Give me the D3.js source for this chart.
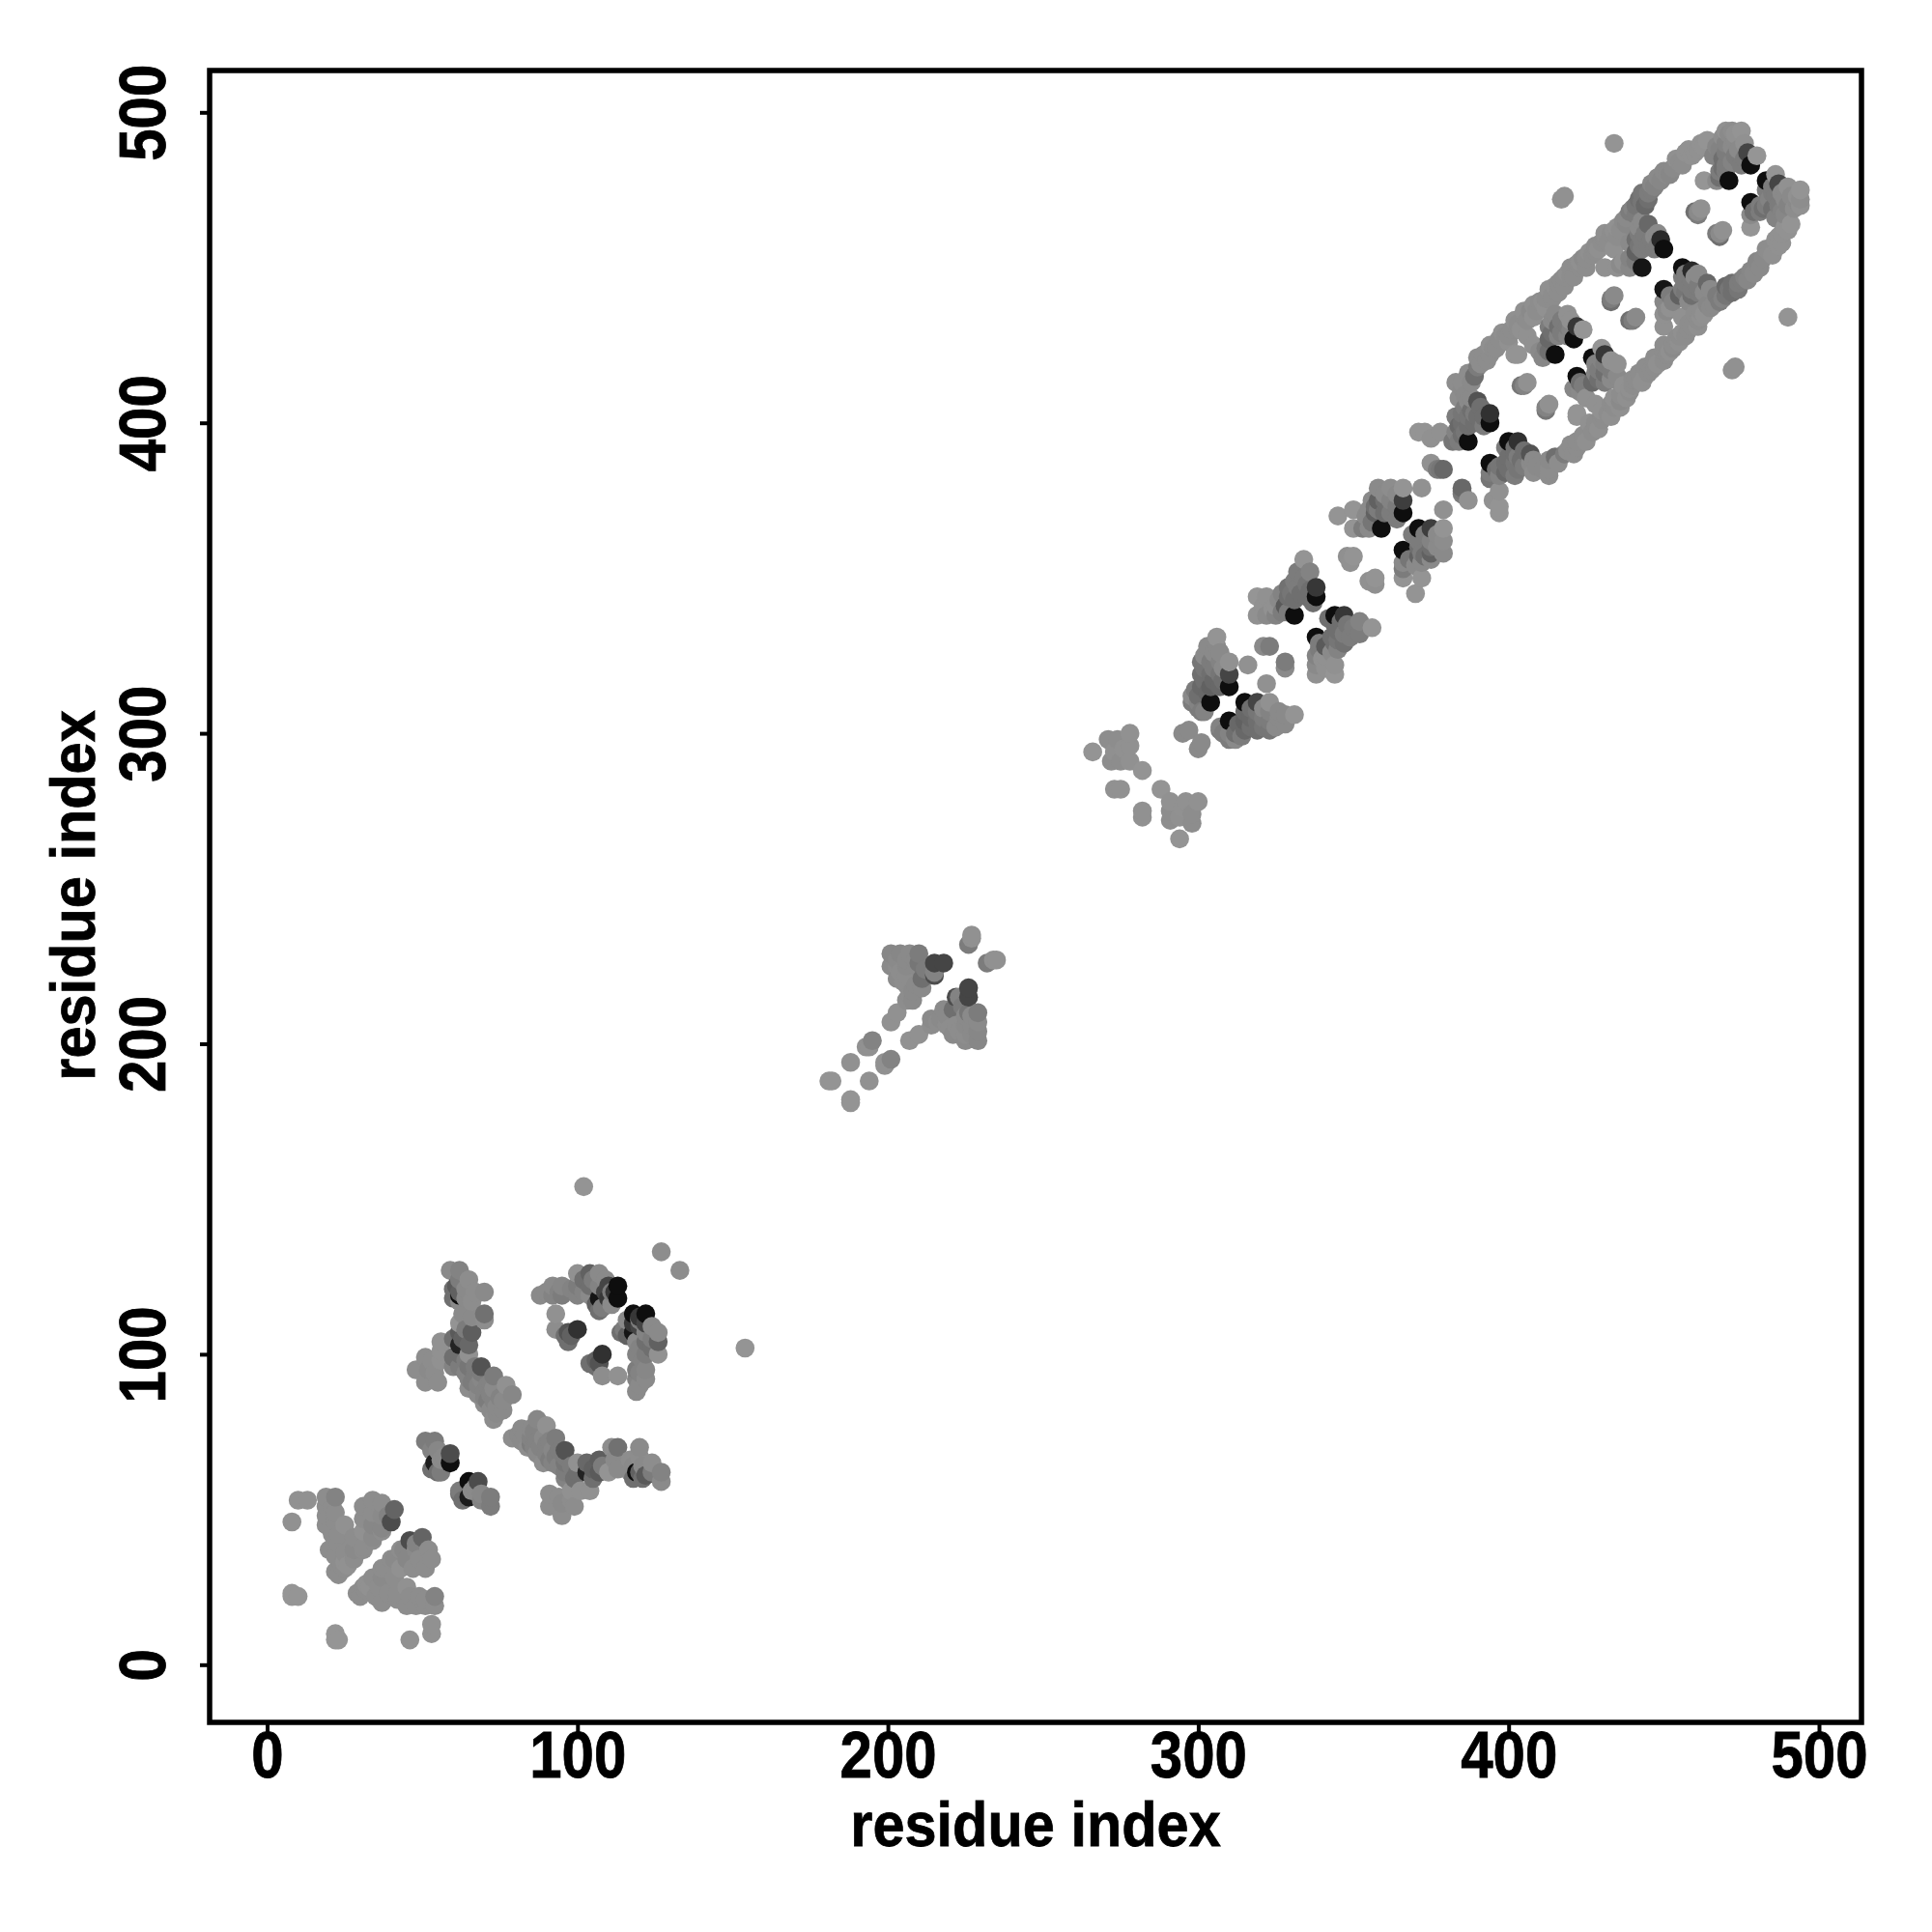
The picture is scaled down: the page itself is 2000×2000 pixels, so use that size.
<!DOCTYPE html>
<html><head><meta charset="utf-8">
<style>html,body{margin:0;padding:0;background:#fff}svg{display:block}text{font-family:"Liberation Sans",Arial,sans-serif;font-weight:700;fill:#000;stroke:#000;stroke-width:.7px}</style>
<script src="https://cdn.jsdelivr.net/npm/d3@7"></script>
</head><body><script>
// Contacts are [residue i, residue j, score]; the map is symmetric, so each contact appears at (i,j) and (j,i).
const tickValues=[0,100,200,300,400,500];
const axisTitle="residue index";
const blockA=[[8,23,.02],[10,22,.02],[8,22,.02],[8,46,.05],[10,53,.05],[13,53,.05],
[19,54,.08],[19,51,.08],[19,48,.08],[19,45,.08],[22,54,.15],[21,51,.08],[22,49,.08],[22,46,.08],[23,42,.08],[21,42,.08],[23,39,.08],[20,37,.08],[22,35,.08],[22,30,.08],[24,32,.08],[23,29,.08],
[25,45,.05],[25,36,.08],[25,33,.05],[25,31,.08],[26,32,.05],[28,41,.08],[28,37,.1],[28,34,.08],[31,51,.08],[31,47,.08],[31,43,.05],[31,38,.08],[31,37,.08],[34,53,.08],[34,49,.08],[34,45,.12],[34,41,.1],[34,40,.08],[37,52,.08],[37,48,.1],[37,44,.12],[37,43,.08],[40,46,.55],[41,50,.38],[39,48,.15]];
const blockB=[[51,72,.2],[54,72,.2],[53,69,.15],[55,69,.12],[54,65,.9],[53,63,.3],[55,62,.3],[56,66,.1],[56,62,.2],[59,68,.55],[59,65,1],[57,67,.1]];
const blockC=[[59,127,.1],[62,127,.15],[62,124,.2],[61,122,.45],[62,119,1],[62,120,.4],[62,117,.1],[65,124,.08],[67,120,.08],[70,120,.1],[66,117,.08],[70,113,.28],[70,111,.08],[66,112,.1],[62,110,.03],
[62,107,.45],[66,107,.42],[62,103,.85],[65,103,.35],[62,100,.3],[65,100,.05],[62,96,.2],[65,96,.25],[69,96,.5],[65,92,.15],[65,89,.08],[69,92,.12],[67,93,.2],[73,93,.2],[70,88,.15],[71,90,.15],[73,89,.1],[73,85,.15],[75,86,.15],[77,90,.05],[79,87,.12],[73,79,.08],[76,82,.1],[70,84,.08],[72,82,.1],
[56,104,.05],[56,101,.05],[53,98,.08],[51,99,.08],[48,95,.08],[51,91,.08],[54,94,.08],[52,95,.1],[55,91,.08],[56,98,.05],
[64,94,.15],[66,91,.2],[68,90,.15],[68,87,.1],[70,86,.15],[72,87,.15],[74,83,.1],[74,81,.1],[76,85,.1],[71,85,.2],[69,94,.2],[72,91,.15],[67,96,.2],[64,98,.2],[60,105,.3],[60,99,.3],[60,96,.15],[63,105,.4],[64,108,.2],[63,113,.1],[60,118,.3],[60,121,.3],[64,121,.1],[64,118,.1]];
const blockD=[[88,119,.1],[92,122,.1],[92,119,.15],[95,122,.12],[95,119,.2],[100,126,.05],[100,122,.2],[100,119,.15],[104,126,.4],[104,122,.3],[104,119,.1],[107,126,.1],[107,122,.15],[107,118,.95],[107,114,.3],[110,122,.6],[110,118,.7],[111,120,.2],[113,122,1],[113,118,1],[93,113,.05],[93,108,.08],[97,107,.5],[100,108,.75],[97,104,.3],[127,133,.08],[102,154,.03],
[90,120,.1],[94,120,.15],[98,121,.15],[102,124,.3],[102,120,.15],[105,124,.2],[109,124,.1],[109,120,.6],[106,116,.4],[108,115,.2],[111,116,.1],[96,106,.3],[98,106,.4],[112,120,.7]];
const blockE=[[181,188,.03],[182,188,.03],[188,194,.05],[193,199,.05],[195,201,.15],[199,194,.05],[201,207,.05],[203,210,.05],
[201,229,.12],[204,229,.12],[207,229,.1],[210,229,.2],[201,225,.1],[203,225,.08],[206,225,.1],[209,225,.1],[210,226,.25],[203,221,.1],[206,222,.08],[206,219,.08],[211,218,.1],[211,221,.3],[206,214,.08],[208,214,.1],[208,217,.1],[215,222,.55],[215,223,.15],[215,226,.6],[218,226,.6],[226,232,.2],[227,234,.05],[227,235,.05],
[203,227,.1],[206,227,.1],[209,227,.1],[205,220,.08],[207,216,.08],[209,219,.1],[204,223,.08],[212,224,.2]];
const blockF=[[266,294,.03],[271,298,.08],[272,291,.08],[274,298,.08],[275,291,.08],[278,300,.05],[278,296,.05],[278,291,.05],[273,294,.06],[276,295,.05],[282,288,.03],[273,282,.05],[275,282,.05],[295,300,.1],[297,301,.1]];
const blockG=[[298,310,.2],[298,312,.1],[300,310,.15],[301,307,.2],[301,315,.35],[301,319,.3],[301,323,.25],[303,328,.1],[304,310,1],[304,315,.4],[304,319,.3],[304,323,.2],[306,328,.1],[306,331,.03],[307,326,.1],[307,323,.15],[307,319,.25],[307,315,.35],[310,323,.05],[310,319,.6],[310,315,1],[316,322,.05],[321,328,.1],[323,328,.2],
[300,312,.3],[302,317,.3],[302,321,.25],[305,317,.35],[305,321,.2],[308,317,.3],[308,321,.1],[302,325,.1],[305,326,.1],[300,308,.2],[302,307,.15],[299,314,.2],[303,313,.35]];
const blockH=[[319,338,.05],[319,344,.02],[322,338,.1],[322,344,.05],[325,338,.15],[325,341,.05],[326,343,.1],[328,341,.45],[329,339,.2],[329,344,.3],[329,347,.28],[331,338,1],[332,347,.2],[332,352,.2],[334,356,.03],[335,344,.3],[335,348,.25],[336,352,.15],[338,344,1],[338,347,.7],[348,357,.06],[349,355,.05],[350,357,.03],[345,370,.03],[350,372,.03],[350,366,.03],[372,379,.05],
[331,343,.3],[333,345,.3],[331,349,.2],[334,350,.2],[330,345,.25],[327,345,.15],[324,340,.05],[321,341,.05],[336,346,.3],[337,342,.3],[327,339,.2]];
const blockI=[[353,366,.2],[355,366,.1],[356,368,.25],[356,375,.1],[357,371,.4],[358,372,.2],[358,375,.4],[358,379,.1],[359,366,1],[360,371,.3],[362,371,.2],[362,375,.15],[362,379,.08],[366,371,1],[366,375,.65],[366,379,.03],[377,385,.2],[378,385,.25],[379,385,.35],[375,387,.05],
[360,375,.3],[360,377,.1],[364,377,.1],[364,373,.2],[364,369,.2],[357,373,.3],[354,370,.1],[355,372,.1]];
const blockK=[[371,397,.03],[373,397,.03],[375,395,.05],[378,397,.05],[382,394,.25],[384,399,.35],[385,396,.3],[385,403,.25],[387,394,1],[387,399,.3],[387,402,.25],[387,407,.1],[389,400,.3],[389,403,.2],[390,407,.5],[392,402,.3],[394,400,1],[394,403,.75],[404,412,.25],[405,412,.15],[406,413,.05],
[383,402,.2],[386,405,.2],[385,400,.3],[388,404,.3],[390,402,.3],[391,405,.3],[384,394,.2],[392,399,.2],[386,397,.25],[383,397,.15],[388,408,.1],[386,409,.1]];
const blockBand=[[383,413,.08],[384,408,.08],[385,411,.1],[385,413,.08],[387,416,.08],[388,413,.1],[389,415,.3],[390,418,.2],[390,421,.08],[393,420,.08],[394,422,.08],[395,424,.08],[397,427,.08],[399,428,.08],[400,426,.05],[401,430,.08],[403,432,.08],[404,430,.05],[405,434,.08],[407,436,.1],[408,434,.05],[410,439,.08],[412,440,.08],[412,437,.05],[414,441,.08],[416,442,.08],[416,445,.08],[418,444,.08],[418,447,.08],[420,450,.08],[421,447,.08],[422,451,.08],[424,453,.1],[425,450,.08],[427,454,.08],[428,455,.08],[430,458,.08],[431,459,.08],[433,461,.08],[435,463,.05],[436,462,.08],[438,466,.1],[440,469,.15],[441,467,.2],[443,474,.25],[444,470,.35],[445,472,.3],[446,475,.2],[449,478,.12],[451,480,.1],[453,482,.1],[455,484,.08],[457,487,.05],[459,486,.05],[461,488,.05],[464,491,.03],
[391,419,.08],[392,422,.08],[394,425,.06],[396,424,.08],[398,429,.06],[400,428,.08],[402,433,.06],[403,430,.08],[405,436,.06],[406,433,.08],[408,438,.06],[409,436,.08],[411,439,.06],[413,443,.06],[414,440,.08],[415,444,.06],[417,446,.08],[419,448,.06],[420,447,.08],[423,450,.08],[423,452,.06],[425,453,.08],[426,455,.06],[428,457,.08],[429,456,.06],[431,461,.06],[432,458,.08],[434,462,.06],[435,460,.08],[437,465,.1],[438,464,.12],[439,468,.2],[441,470,.25],[442,472,.3],[443,471,.25],[445,474,.2],[446,477,.12],[447,476,.15],[448,479,.1],[450,481,.1],[452,480,.12],[454,485,.06],[456,483,.08],[458,488,.05],[460,487,.05],[462,490,.04],[463,489,.04]];
const blockL=[[402,422,.03],[403,422,.03],[406,428,.05],[411,421,.12],[413,423,.3],[412,424,.2],[413,427,.35],[413,431,.2],[415,422,1],[415,435,.1],[416,428,.15],[416,431,.3],[419,428,.15],[419,431,.2],[419,435,.05],[421,427,1],[422,431,.7],[424,430,.02],[433,439,.3],[433,440,.2],[434,441,.1],
[414,429,.3],[417,429,.2],[417,433,.2],[420,430,.15],[414,433,.1],[420,433,.05],[410,423,.1],[408,425,.05]];
const blockM=[[431,450,.05],[434,456,.05],[435,450,.05],[436,451,.1],[439,450,.12],[441,455,.4],[441,459,.3],[442,463,.1],[443,450,.95],[443,456,.2],[443,459,.2],[445,457,.2],[445,464,.35],[447,456,.2],[447,460,.1],[449,459,.8],[450,456,1],[460,468,.3],[461,467,.2],[461,468,.1],[462,469,.05],
[442,457,.25],[444,461,.2],[446,459,.2],[448,457,.2],[441,452,.2],[439,453,.15],[437,452,.05],[448,461,.1],[443,465,.1],[439,458,.1],[442,461,.2]];
const blockN=[[463,478,.02],[467,478,.1],[467,489,.12],[468,481,.2],[469,482,.3],[469,485,.3],[470,490,.15],[470,494,.05],[471,478,1],[471,493,.1],[472,484,.15],[473,486,.2],[473,491,.1],[475,483,.2],[475,494,.03],[477,487,.6],[478,483,1],[480,486,.02],[434,490,.03],[417,472,.05],[418,473,.05],
[466,486,.15],[468,488,.15],[470,487,.2],[472,489,.1],[474,488,.1],[476,485,.2],[474,485,.2],[470,483,.2],[468,479,.3],[470,481,.2],[472,494,.08],[473,493,.05],[469,492,.08],[476,490,.05]];

const contacts=[blockA,blockB,blockC,blockD,blockE,blockF,blockG,blockH,blockI,blockK,blockBand,blockL,blockM,blockN].flat();
// every contact is drawn at both (i,j) and (j,i); the reference paints by x, then by y
const plotted=contacts.flatMap(c=>[{a:c[0],b:c[1],s:c[2]},{a:c[1],b:c[0],s:c[2]}])
  .sort((p,q)=>d3.ascending(p.a,q.a)||d3.ascending(p.b,q.b));

const W=2000,H=2000;
const box={l:217,r:1927,t:73,b:1783};
const x=d3.scaleLinear().domain([0,500]).range([276.5,1883]);
const y=d3.scaleLinear().domain([0,500]).range([1723.3,116.3]);
const shade=d3.scaleLinear().domain([0,1]).range(["#989898","#0e0e0e"]);

const svg=d3.select("body").append("svg").attr("width",W).attr("height",H);
svg.append("rect").attr("width",W).attr("height",H).attr("fill","#fff");

svg.append("g").selectAll("circle").data(plotted).join("circle")
  .attr("cx",d=>x(d.a)).attr("cy",d=>y(d.b)).attr("r",9.8).attr("fill",d=>shade(d.s));

const gx=svg.append("g").attr("transform",`translate(0,${box.b})`)
  .call(d3.axisBottom(x).tickValues(tickValues).tickSize(12).tickSizeOuter(0).tickPadding(10));
const gy=svg.append("g").attr("transform",`translate(${box.l},0)`)
  .call(d3.axisLeft(y).tickValues(tickValues).tickSize(10).tickSizeOuter(0).tickPadding(0));
[gx,gy].forEach(g=>{
  g.select(".domain").remove();
  g.selectAll(".tick line").attr("stroke","#000").attr("stroke-width",4);
  g.selectAll(".tick text").attr("fill","#000");
});
gx.selectAll(".tick text").attr("y",null).attr("dy",null)
  .attr("transform","translate(0,57) scale(1,1.13)").attr("font-size",60).attr("text-anchor","middle");
gy.selectAll(".tick text").attr("x",null).attr("dy",null)
  .attr("transform","translate(-46,0) rotate(-90) scale(1,1.13)").attr("x",0).attr("y",0).attr("font-size",60).attr("text-anchor","middle");

svg.append("rect").attr("x",box.l).attr("y",box.t).attr("width",box.r-box.l).attr("height",box.b-box.t)
  .attr("fill","none").attr("stroke","#000").attr("stroke-width",5.5);

svg.append("text").attr("transform","translate(1072,1911) scale(1,1.1)").attr("text-anchor","middle").attr("font-size",59.5).text(axisTitle);
svg.append("text").attr("transform","translate(98,927) rotate(-90) scale(1,1.1)").attr("text-anchor","middle").attr("font-size",59.5).text(axisTitle);
</script></body></html>
